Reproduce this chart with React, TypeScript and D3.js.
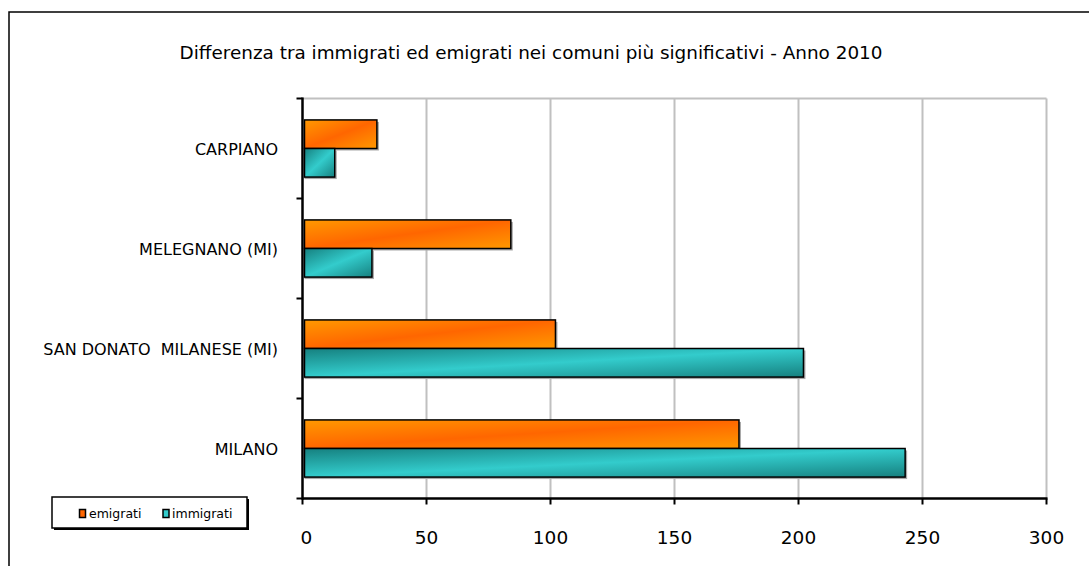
import React, { useEffect, useRef } from 'react';
import * as d3 from 'd3';

const categories = ['CARPIANO', 'MELEGNANO (MI)', 'SAN DONATO  MILANESE (MI)', 'MILANO'];
const seriesNames = ['emigrati', 'immigrati'];
const emigrati = [30, 84, 102, 176];
const immigrati = [13, 28, 202, 243];
const xTicks = [0, 50, 100, 150, 200, 250, 300];
const title = 'Differenza tra immigrati ed emigrati nei comuni più significativi - Anno 2010';

const FONT = '"DejaVu Sans", Verdana, sans-serif';

export default function App() {
  const svgRef = useRef<SVGSVGElement>(null);

  useEffect(() => {
    const svg = d3.select(svgRef.current);
    svg.selectAll('*').remove();

    const left = 302.5, right = 1046.5, top = 98.5, bottom = 498.5;

    const x = d3.scaleLinear().domain([0, 300]).range([left, right]);
    const y0 = d3.scaleBand().domain(categories).range([top, bottom]).paddingInner(0).paddingOuter(0);
    const y1 = d3.scaleBand().domain(seriesNames).range([0, y0.bandwidth()]).paddingInner(0).paddingOuter(0.75);

    const defs = svg.append('defs');
    const grad = (id: string, edge: string, mid: string) => {
      const g = defs.append('linearGradient').attr('id', id)
        .attr('x1', 0).attr('y1', 0).attr('x2', 1).attr('y2', 1);
      g.append('stop').attr('offset', '0%').attr('stop-color', edge);
      g.append('stop').attr('offset', '50%').attr('stop-color', mid);
      g.append('stop').attr('offset', '100%').attr('stop-color', edge);
    };
    grad('gEmi', '#ff9900', '#ff6600');
    grad('gImm', '#16807f', '#33cccc');
    const fills: Record<string, string> = { emigrati: 'url(#gEmi)', immigrati: 'url(#gImm)' };

    // outer frame
    svg.append('rect').attr('x', 9).attr('y', 12).attr('width', 1200).attr('height', 700)
      .attr('fill', 'white').attr('stroke', '#000').attr('stroke-width', 1.5);

    svg.append('text').attr('x', 531).attr('y', 59).attr('text-anchor', 'middle')
      .attr('font-family', FONT).attr('font-size', 18).attr('fill', '#000')
      .attr('textLength', 703).attr('lengthAdjust', 'spacingAndGlyphs')
      .text(title);

    // grid + plot border
    svg.append('g').selectAll('line').data(xTicks.slice(1)).join('line')
      .attr('x1', d => x(d)).attr('x2', d => x(d)).attr('y1', top).attr('y2', bottom)
      .attr('stroke', '#c0c0c0').attr('stroke-width', 2);
    svg.append('line').attr('x1', left).attr('x2', right).attr('y1', top).attr('y2', top)
      .attr('stroke', '#c0c0c0').attr('stroke-width', 2);

    const rows = categories.map((c, i) => ({ c, vals: [emigrati[i], immigrati[i]] }));
    const bars = svg.append('g').selectAll('g').data(rows).join('g')
      .attr('transform', d => `translate(0,${y0(d.c)})`);

    bars.selectAll('rect.shadow').data(d => d.vals.map((v, j) => ({ s: seriesNames[j], v }))).join('rect')
      .attr('class', 'shadow')
      .attr('x', x(0) + 2).attr('y', d => (y1(d.s) || 0) + 2)
      .attr('width', d => x(d.v) - x(0)).attr('height', y1.bandwidth())
      .attr('fill', '#a8a8a8');
    bars.selectAll('rect.bar').data(d => d.vals.map((v, j) => ({ s: seriesNames[j], v }))).join('rect')
      .attr('class', 'bar')
      .attr('x', x(0) + 2).attr('y', d => y1(d.s) || 0)
      .attr('width', d => x(d.v) - x(0) - 2).attr('height', y1.bandwidth())
      .attr('fill', d => fills[d.s]).attr('stroke', '#000').attr('stroke-width', 1.5);

    // y axis
    const yAxis = svg.append('g');
    yAxis.append('line').attr('x1', left).attr('x2', left).attr('y1', top - 1).attr('y2', bottom + 1)
      .attr('stroke', '#000').attr('stroke-width', 2.5);
    const yTickPos = categories.map(c => y0(c) || 0).concat([bottom]);
    yAxis.selectAll('line.t').data(yTickPos).join('line').attr('class', 't')
      .attr('x1', left - 6).attr('x2', left).attr('y1', d => d).attr('y2', d => d)
      .attr('stroke', '#000').attr('stroke-width', 2);
    yAxis.selectAll('text').data(categories).join('text')
      .attr('x', 278).attr('y', d => (y0(d) || 0) + y0.bandwidth() / 2 + 6.5)
      .attr('text-anchor', 'end').attr('font-family', FONT).attr('font-size', 16).attr('fill', '#000')
      .style('white-space', 'pre')
      .text(d => d);

    // x axis
    const xAxis = svg.append('g');
    xAxis.append('line').attr('x1', left).attr('x2', right + 1).attr('y1', bottom).attr('y2', bottom)
      .attr('stroke', '#000').attr('stroke-width', 2.5);
    xAxis.selectAll('line.t').data(xTicks).join('line').attr('class', 't')
      .attr('x1', d => x(d)).attr('x2', d => x(d)).attr('y1', bottom).attr('y2', bottom + 6)
      .attr('stroke', '#000').attr('stroke-width', 2);
    xAxis.selectAll('text').data(xTicks).join('text')
      .attr('x', d => x(d) + (d === 0 ? 4 : 0)).attr('y', 544)
      .attr('text-anchor', 'middle').attr('font-family', FONT).attr('font-size', 18.5).attr('fill', '#000')
      .text(d => d);

    // legend
    const lg = svg.append('g');
    lg.append('rect').attr('x', 54).attr('y', 499).attr('width', 195).attr('height', 31).attr('fill', '#000');
    lg.append('rect').attr('x', 52).attr('y', 497).attr('width', 195).attr('height', 31)
      .attr('fill', 'white').attr('stroke', '#000').attr('stroke-width', 1.5);
    const items = [
      { s: 'emigrati', color: '#ff6600', sx: 79.5, tx: 89 },
      { s: 'immigrati', color: '#33cccc', sx: 163, tx: 172 },
    ];
    items.forEach(it => {
      lg.append('rect').attr('x', it.sx).attr('y', 509.5).attr('width', 6).attr('height', 8)
        .attr('fill', it.color).attr('stroke', '#000').attr('stroke-width', 1.5);
      lg.append('text').attr('x', it.tx).attr('y', 518).attr('font-family', FONT)
        .attr('font-size', 12.5).attr('fill', '#000').text(it.s);
    });
  }, []);

  return (
    <div style={{ position: 'absolute', left: 0, top: 0 }}>
      <svg ref={svgRef} width={1089} height={566} style={{ display: 'block' }} />
    </div>
  );
}
